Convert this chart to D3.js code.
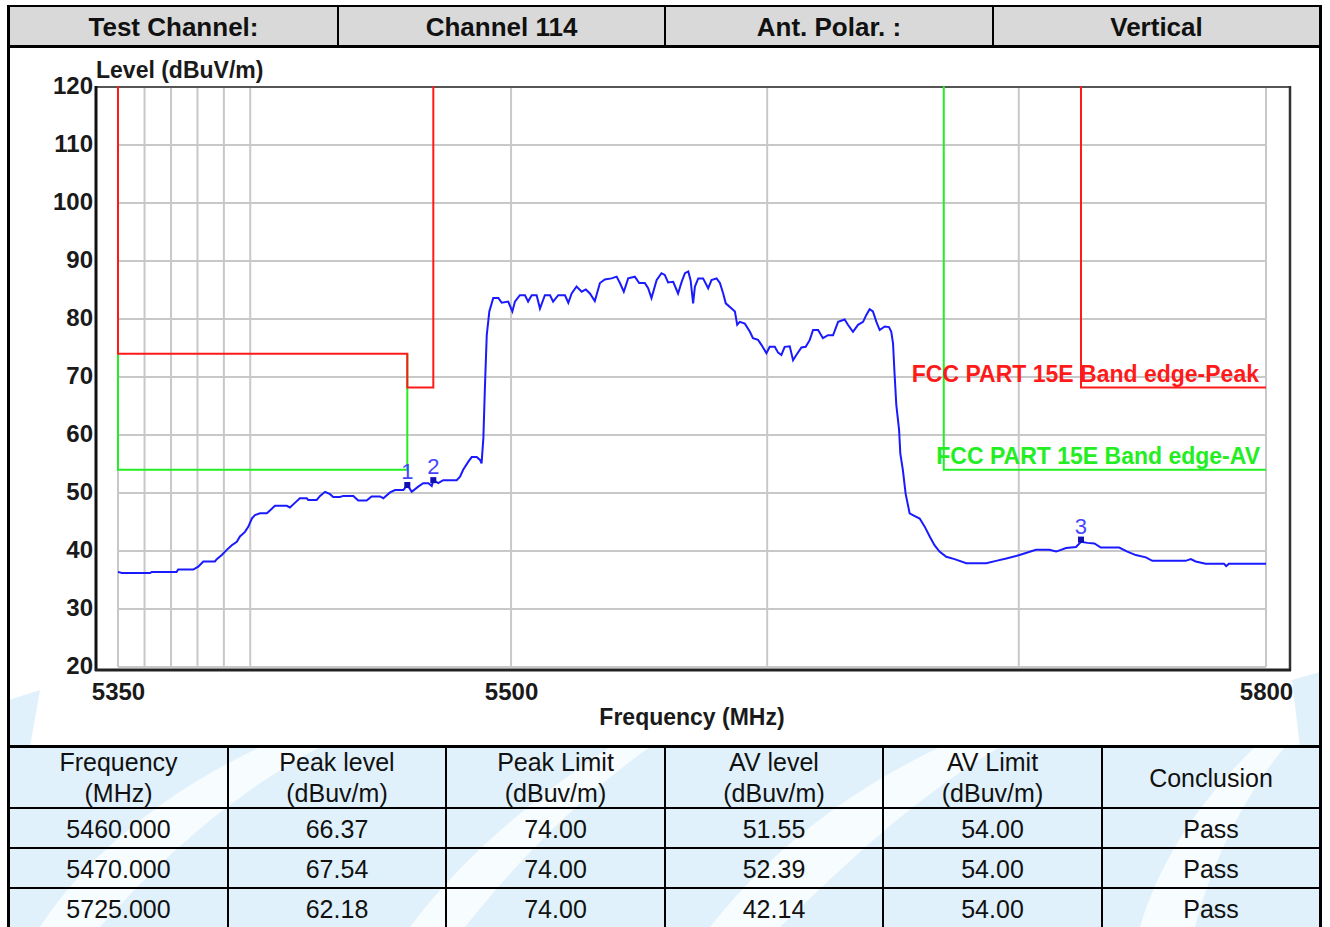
<!DOCTYPE html>
<meta charset="utf-8">
<title>Band edge plot</title>
<style>
  body { margin: 0; background: #fff; }
  svg text { font-family: "Liberation Sans", Arial, sans-serif; }
</style>
<script src="https://d3js.org/d3.v7.min.js"></script>
<body>
<div id="chart"></div>
<script>

// header row of the report
const headerCells = ["Test Channel:", "Channel 114", "Ant. Polar. :", "Vertical"];

const traceFreq = [5350, 5351.4, 5362.1, 5362.7, 5372.1, 5372.7, 5378.4, 5380.3, 5382.2, 5386.6,
  5387.3, 5389.2, 5391.1, 5393.0, 5394.9, 5396.1, 5398.0, 5399.3, 5400.6, 5401.8,
  5403.7, 5406.3, 5407.5, 5409.4, 5413.9, 5415.1, 5417.0, 5418.9, 5421.5, 5422.1,
  5425.3, 5426.6, 5428.5, 5430.4, 5431.6, 5434.2, 5435.5, 5439.3, 5441.2, 5444.4,
  5446.3, 5449.5, 5450.8, 5453.4, 5455.3, 5458.5, 5460.0, 5461.7, 5464.2, 5466.1,
  5468.1, 5469.4, 5470.0, 5471.9, 5473.8, 5479.0, 5480.3, 5481.5, 5483.5, 5484.8,
  5486.7, 5488.0, 5488.6, 5489.3, 5489.9, 5490.6, 5491.6, 5493.1, 5495.1, 5496.4,
  5498.9, 5500.5, 5501.5, 5503.4, 5505.4, 5506.6, 5508.0, 5509.9, 5511.2, 5513.1,
  5515.1, 5516.3, 5518.3, 5520.9, 5522.2, 5523.5, 5525.4, 5527.4, 5529.0, 5530.6,
  5532.5, 5534.5, 5536.4, 5539.0, 5541.0, 5542.3, 5543.8, 5545.5, 5548.1, 5549.8,
  5552.0, 5553.3, 5554.6, 5556.6, 5558.5, 5559.8, 5561.1, 5563.1, 5565.0, 5566.4,
  5567.7, 5569.0, 5569.9, 5570.9, 5571.6, 5572.9, 5574.8, 5576.8, 5578.1, 5580.1,
  5581.4, 5582.7, 5583.7, 5586.0, 5587.3, 5588.2, 5589.2, 5591.2, 5593.2, 5594.4,
  5596.4, 5597.8, 5599.7, 5601.0, 5603.0, 5604.3, 5605.6, 5606.9, 5608.9, 5610.2,
  5611.5, 5613.5, 5615.2, 5616.8, 5618.1, 5620.1, 5622.0, 5624.0, 5626.0, 5628.0,
  5630.6, 5631.9, 5633.9, 5635.9, 5637.9, 5639.2, 5640.5, 5641.8, 5643.2, 5644.5,
  5646.5, 5648.2, 5649.1, 5649.8, 5650.4, 5651.1, 5652.2, 5652.7, 5653.7, 5654.8,
  5656.4, 5657.7, 5660.4, 5662.4, 5664.4, 5666.3, 5668.3, 5671.0, 5674.3, 5679.0,
  5687.0, 5690.9, 5695.0, 5700.3, 5706.9, 5712.3, 5715.0, 5719.0, 5723.0, 5725.0,
  5727.6, 5730.4, 5733.0, 5740.4, 5743.7, 5747.1, 5751.2, 5753.8, 5767.3, 5769.4,
  5771.4, 5775.4, 5782.9, 5783.8, 5784.9, 5800];
const traceLevel = [36.4, 36.2, 36.2, 36.4, 36.4, 36.8, 36.8, 37.3, 38.2, 38.2,
  38.6, 39.3, 40.2, 41.0, 41.6, 42.5, 43.3, 44.2, 45.6, 46.2,
  46.5, 46.5, 47.0, 47.8, 47.8, 47.5, 48.3, 49.1, 49.1, 48.8,
  48.8, 49.5, 50.2, 49.8, 49.3, 49.3, 49.5, 49.5, 48.7, 48.7,
  49.4, 49.4, 49.1, 50.1, 50.5, 50.5, 51.4, 50.2, 51.1, 51.7,
  51.7, 51.2, 52.2, 51.7, 52.2, 52.2, 52.8, 54.0, 55.4, 56.2,
  56.2, 55.7, 55.1, 59.5, 68.3, 77.2, 81.3, 83.6, 83.6, 82.8,
  83.0, 81.3, 83.0, 84.1, 84.1, 83.0, 84.1, 84.1, 81.8, 84.1,
  84.1, 83.0, 84.1, 84.1, 82.8, 84.4, 85.6, 84.7, 85.1, 84.4,
  83.1, 86.2, 86.8, 87.0, 87.3, 86.2, 84.7, 87.0, 87.3, 86.2,
  86.2, 85.3, 83.6, 86.7, 87.9, 87.6, 86.3, 86.4, 84.4, 86.4,
  87.9, 88.2, 86.7, 82.7, 85.6, 87.0, 87.0, 85.3, 86.7, 87.0,
  86.2, 84.4, 82.7, 81.8, 81.3, 79.0, 79.5, 79.2, 77.8, 76.7,
  76.4, 75.5, 74.1, 75.2, 75.2, 74.2, 73.8, 75.2, 75.3, 72.9,
  73.8, 75.1, 75.2, 76.4, 78.1, 78.1, 76.7, 77.2, 77.2, 79.5,
  79.9, 79.0, 77.8, 79.0, 79.5, 80.7, 81.7, 81.3, 79.5, 78.1,
  78.7, 78.6, 77.8, 75.8, 70.6, 65.2, 60.9, 56.8, 54.0, 49.9,
  46.5, 46.2, 45.6, 44.2, 42.5, 41.0, 39.9, 39.0, 38.6, 37.9,
  37.9, 38.3, 38.7, 39.3, 40.2, 40.2, 39.9, 40.5, 40.7, 41.6,
  41.4, 41.3, 40.6, 40.6, 39.9, 39.3, 38.9, 38.3, 38.3, 38.6,
  38.2, 37.8, 37.8, 37.4, 37.8, 37.8];

// limit lines (polylines, frequency / level)
const peakLimitFreq = [[5350, 5350, 5460, 5460, 5470, 5470], [5725, 5725, 5800]];
const peakLimitLevel = [[130, 74, 74, 68.2, 68.2, 130], [130, 68.2, 68.2]];
const avLimitFreq = [[5350, 5350, 5460, 5460], [5670, 5670, 5800]];
const avLimitLevel = [[74, 54, 54, 74], [130, 54, 54]];

// markers
const markerFreq = [5460, 5470, 5725];
const markerLevel = [51.55, 52.39, 42.14];
const markerLabels = ["1", "2", "3"];

// axes
const yTicks = [20, 30, 40, 50, 60, 70, 80, 90, 100, 110, 120];
const xTicks = [5350, 5500, 5800];
const xGrid = [5350, 5360, 5370, 5380, 5390, 5400, 5500, 5600, 5700, 5800];

// result table
const tableHead = [["Frequency", "(MHz)"], ["Peak level", "(dBuv/m)"], ["Peak Limit", "(dBuv/m)"],
  ["AV level", "(dBuv/m)"], ["AV Limit", "(dBuv/m)"], ["Conclusion"]];
const tableFreq = ["5460.000", "5470.000", "5725.000"];
const tablePeak = ["66.37", "67.54", "62.18"];
const tablePeakLimit = ["74.00", "74.00", "74.00"];
const tableAv = ["51.55", "52.39", "42.14"];
const tableAvLimit = ["54.00", "54.00", "54.00"];
const tableResult = ["Pass", "Pass", "Pass"];

const W = 1330, H = 927;
const svg = d3.select("#chart").append("svg")
  .attr("width", W).attr("height", H);

// ---- watermark (light blue swooshes behind table) ----
const wm = svg.append("g");
wm.append("rect").attr("x", 9).attr("y", 747).attr("width", 1311).attr("height", 180).attr("fill", "#e0f1fc");
wm.append("path").attr("d", "M9,700 L40,690 L30,747 L9,747 Z").attr("fill", "#e0f1fc");
wm.append("path").attr("d", "M1292,680 L1320,672 L1320,747 L1300,747 Z").attr("fill", "#e0f1fc");
const swooshes = [
  "M40,927 C90,850 170,790 260,747 L320,747 C230,795 160,860 100,927 Z",
  "M410,927 C460,860 530,800 610,747 L650,747 C575,800 510,870 465,927 Z",
  "M710,927 C770,850 850,790 940,747 L1000,747 C910,800 840,870 780,927 Z",
  "M1140,927 C1160,860 1200,800 1255,747 L1285,747 C1240,800 1210,870 1195,927 Z"
];
wm.selectAll("path.sw").data(swooshes).join("path")
  .attr("class", "sw").attr("d", d => d).attr("fill", "#ffffff").attr("opacity", 0.75);

// ---- header ----
const headX = [9, 338, 665, 993, 1320];
svg.append("rect").attr("x", 9).attr("y", 7).attr("width", 1311).attr("height", 39).attr("fill", "#d9d9d9");
headerCells.forEach((t, i) => {
  svg.append("text")
    .attr("x", (headX[i] + headX[i + 1]) / 2).attr("y", 36)
    .attr("text-anchor", "middle").attr("font-size", 26).attr("font-weight", "bold")
    .attr("fill", "#111").text(t);
});
svg.append("line").attr("x1", 9).attr("x2", 1320).attr("y1", 46.5).attr("y2", 46.5)
  .attr("stroke", "#000").attr("stroke-width", 3);
headX.slice(1, 4).forEach(x => {
  svg.append("line").attr("x1", x).attr("x2", x).attr("y1", 7).attr("y2", 46)
    .attr("stroke", "#000").attr("stroke-width", 2);
});

// ---- plot ----
const x = d3.scaleLog().domain([5350, 5800]).range([118, 1266]);
const y = d3.scaleLinear().domain([20, 120]).range([667, 87]);

const plot = svg.append("g");

// grid
plot.selectAll("line.hg").data(yTicks.slice(0, -1)).join("line")
  .attr("class", "hg")
  .attr("x1", 118).attr("x2", 1266)
  .attr("y1", d => y(d)).attr("y2", d => y(d))
  .attr("stroke", "#c8c8c8").attr("stroke-width", 2);
plot.selectAll("line.vg").data(xGrid).join("line")
  .attr("class", "vg")
  .attr("x1", d => x(d)).attr("x2", d => x(d))
  .attr("y1", 87).attr("y2", 667)
  .attr("stroke", "#c8c8c8").attr("stroke-width", 2);

// frame
plot.append("line").attr("x1", 96).attr("x2", 1290).attr("y1", 87).attr("y2", 87)
  .attr("stroke", "#555").attr("stroke-width", 2);
plot.append("line").attr("x1", 1290).attr("x2", 1290).attr("y1", 86).attr("y2", 671)
  .attr("stroke", "#333").attr("stroke-width", 2.5);

svg.append("clipPath").attr("id", "clip")
  .append("rect").attr("x", 117).attr("y", 86).attr("width", 1151).attr("height", 583);

const line = d3.line().x(d => x(d[0])).y(d => y(d[1]));
const lines = plot.append("g").attr("clip-path", "url(#clip)");

avLimitFreq.forEach((fs, i) => {
  lines.append("path").attr("d", line(fs.map((f, j) => [f, avLimitLevel[i][j]])))
    .attr("fill", "none").attr("stroke", "#22ee22").attr("stroke-width", 2);
});
peakLimitFreq.forEach((fs, i) => {
  lines.append("path").attr("d", line(fs.map((f, j) => [f, peakLimitLevel[i][j]])))
    .attr("fill", "none").attr("stroke", "#ff1a1a").attr("stroke-width", 2);
});

lines.append("path")
  .attr("d", line(traceFreq.map((f, i) => [f, traceLevel[i]])))
  .attr("fill", "none").attr("stroke", "#1a1aff").attr("stroke-width", 2);

// markers
markerFreq.forEach((f, i) => {
  plot.append("rect")
    .attr("x", x(f) - 3).attr("y", y(markerLevel[i]) - 2)
    .attr("width", 6).attr("height", 6).attr("fill", "#1010b0");
  plot.append("text")
    .attr("x", x(f)).attr("y", y(markerLevel[i]) - 5)
    .attr("text-anchor", "middle").attr("font-size", 22)
    .attr("fill", "#4646ff").text(markerLabels[i]);
});

// limit labels
plot.append("text").attr("x", 1259).attr("y", 382).attr("text-anchor", "end")
  .attr("font-size", 23).attr("font-weight", "bold").attr("fill", "#ff1a1a")
  .text("FCC PART 15E Band edge-Peak");
plot.append("text").attr("x", 1260).attr("y", 464).attr("text-anchor", "end")
  .attr("font-size", 23).attr("font-weight", "bold").attr("fill", "#22ee22")
  .text("FCC PART 15E Band edge-AV");

// axes
const yAxis = plot.append("g").attr("transform", "translate(96,0)")
  .call(d3.axisLeft(y).tickValues(yTicks).tickSize(0).tickPadding(3).tickFormat(d3.format("d")));
const xAxis = plot.append("g").attr("transform", "translate(0,670)")
  .call(d3.axisBottom(x).tickValues(xTicks).tickSize(0).tickPadding(13).tickFormat(d3.format("d")));
[yAxis, xAxis].forEach(a => {
  a.select(".domain").remove();
  a.selectAll("text").attr("font-size", 24).attr("font-weight", "bold")
    .attr("fill", "#1a1a1a").attr("font-family", "Liberation Sans, Arial, sans-serif");
});
yAxis.selectAll("text").attr("dy", "0.25em");

// left / bottom axis lines
plot.append("line").attr("x1", 96).attr("x2", 96).attr("y1", 86).attr("y2", 671)
  .attr("stroke", "#111").attr("stroke-width", 3);
plot.append("line").attr("x1", 95).attr("x2", 1291).attr("y1", 670).attr("y2", 670)
  .attr("stroke", "#222").attr("stroke-width", 3);

plot.append("text").attr("x", 96).attr("y", 78)
  .attr("font-size", 23).attr("font-weight", "bold").attr("fill", "#1a1a1a")
  .text("Level (dBuV/m)");
plot.append("text").attr("x", 692).attr("y", 725).attr("text-anchor", "middle")
  .attr("font-size", 23).attr("font-weight", "bold").attr("fill", "#1a1a1a")
  .text("Frequency (MHz)");

// ---- table ----
const colX = [9, 228, 446, 665, 883, 1102, 1320];
const rowY = [747, 808, 848, 888, 928];
const tbl = svg.append("g");
const colCenter = i => (colX[i] + colX[i + 1]) / 2;

tableHead.forEach((lines2, i) => {
  const t = tbl.append("text").attr("x", colCenter(i)).attr("text-anchor", "middle")
    .attr("font-size", 25).attr("fill", "#111");
  if (lines2.length === 2) {
    t.attr("y", 771).text(lines2[0]);
    tbl.append("text").attr("x", colCenter(i)).attr("y", 802).attr("text-anchor", "middle")
      .attr("font-size", 25).attr("fill", "#111").text(lines2[1]);
  } else {
    t.attr("y", 787).text(lines2[0]);
  }
});

const cols = [tableFreq, tablePeak, tablePeakLimit, tableAv, tableAvLimit, tableResult];
cols.forEach((col, i) => {
  col.forEach((v, r) => {
    tbl.append("text").attr("x", colCenter(i)).attr("y", rowY[r + 1] + 30)
      .attr("text-anchor", "middle").attr("font-size", 25).attr("fill", "#111").text(v);
  });
});

rowY.slice(1, 4).forEach(yy => {
  tbl.append("line").attr("x1", 9).attr("x2", 1320).attr("y1", yy).attr("y2", yy)
    .attr("stroke", "#000").attr("stroke-width", 2);
});
colX.slice(1, 6).forEach(xx => {
  tbl.append("line").attr("x1", xx).attr("x2", xx).attr("y1", 747).attr("y2", 927)
    .attr("stroke", "#000").attr("stroke-width", 2);
});
tbl.append("line").attr("x1", 8).attr("x2", 1322).attr("y1", 746.5).attr("y2", 746.5)
  .attr("stroke", "#000").attr("stroke-width", 3);

// outer border
svg.append("line").attr("x1", 8).attr("x2", 1321).attr("y1", 6).attr("y2", 6)
  .attr("stroke", "#000").attr("stroke-width", 2);
svg.append("line").attr("x1", 8.5).attr("x2", 8.5).attr("y1", 5).attr("y2", 927)
  .attr("stroke", "#000").attr("stroke-width", 3);
svg.append("line").attr("x1", 1320.5).attr("x2", 1320.5).attr("y1", 5).attr("y2", 927)
  .attr("stroke", "#000").attr("stroke-width", 3);

</script>
</body>
